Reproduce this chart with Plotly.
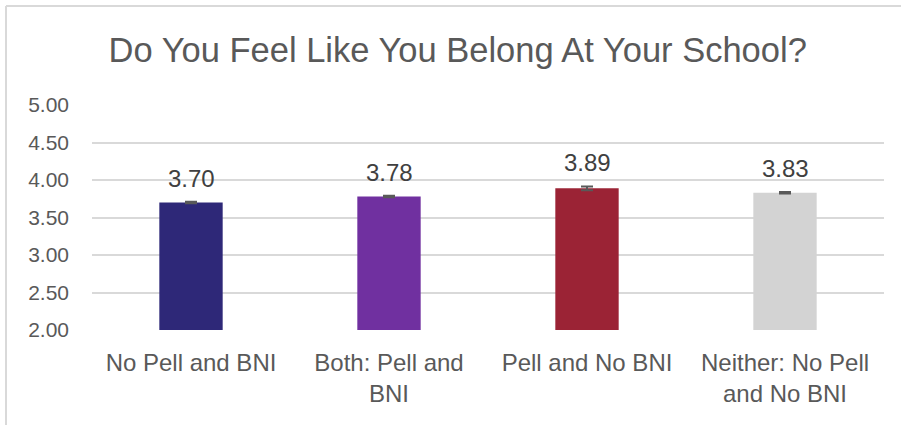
import plotly.graph_objects as go

categories = ["No Pell and BNI", "Both: Pell and<br>BNI", "Pell and No BNI", "Neither: No Pell<br>and No BNI"]
values = [3.70, 3.78, 3.89, 3.83]
errors = [0.01, 0.01, 0.025, 0.01]
colors = ["#2E2878", "#7030A0", "#9B2335", "#D3D3D3"]
title_text = "Do You Feel Like You Belong At Your School?"

W, H = 901, 425
ml, mr, mt, mb = 92, 17, 105, 95
FONT = "Liberation Sans, Arial, sans-serif"

fig = go.Figure()
fig.add_trace(go.Bar(
    x=categories, y=values,
    marker=dict(color=colors, line=dict(width=0)),
    width=0.32,
    error_y=dict(type="data", array=errors, visible=True, color="#595959", thickness=2, width=6),
    hoverinfo="skip",
))

for c, v, e in zip(categories, values, errors):
    fig.add_annotation(x=c, y=v + e, text=f"{v:.2f}", showarrow=False,
                       yanchor="bottom", yshift=8,
                       font=dict(size=24, color="#404040", family=FONT))

pw = W - ml - mr
ph = H - mt - mb
# chart border (left and top)
fig.add_shape(type="line", xref="paper", yref="paper",
              x0=(6 - ml) / pw, x1=(W + 5 - ml) / pw, y0=1 + (mt - 6) / ph, y1=1 + (mt - 6) / ph,
              line=dict(color="#D9D9D9", width=2))
fig.add_shape(type="line", xref="paper", yref="paper",
              x0=(6 - ml) / pw, x1=(6 - ml) / pw, y0=1 + (mt - 6) / ph, y1=-(mb + 5) / ph,
              line=dict(color="#D9D9D9", width=2))

fig.update_layout(
    width=W, height=H,
    margin=dict(l=ml, r=mr, t=mt, b=mb, pad=0),
    paper_bgcolor="white", plot_bgcolor="white",
    showlegend=False,
    title=dict(text=title_text, x=0.508, xanchor="center", y=1 - 50 / H, yanchor="middle",
               font=dict(size=34.5, color="#595959", family=FONT)),
    font=dict(family=FONT, color="#595959"),
    xaxis=dict(showgrid=False, showline=False, ticks="", tickfont=dict(size=24, color="#595959"),
               ticklabelstandoff=16),
    yaxis=dict(range=[2, 5], dtick=0.5, tickformat=".2f", showgrid=True, gridcolor="#D9D9D9",
               gridwidth=1.5, zeroline=False, showline=False, ticks="",
               tickfont=dict(size=21, color="#595959"), ticklabelstandoff=22),
)

fig.write_html("out.html", config={"displayModeBar": False})
with open("out.html", "r", encoding="utf-8") as f:
    html = f.read()
html = html.replace("<body>", '<body style="margin:0;padding:0;overflow:hidden">', 1)
with open("out.html", "w", encoding="utf-8") as f:
    f.write(html)
